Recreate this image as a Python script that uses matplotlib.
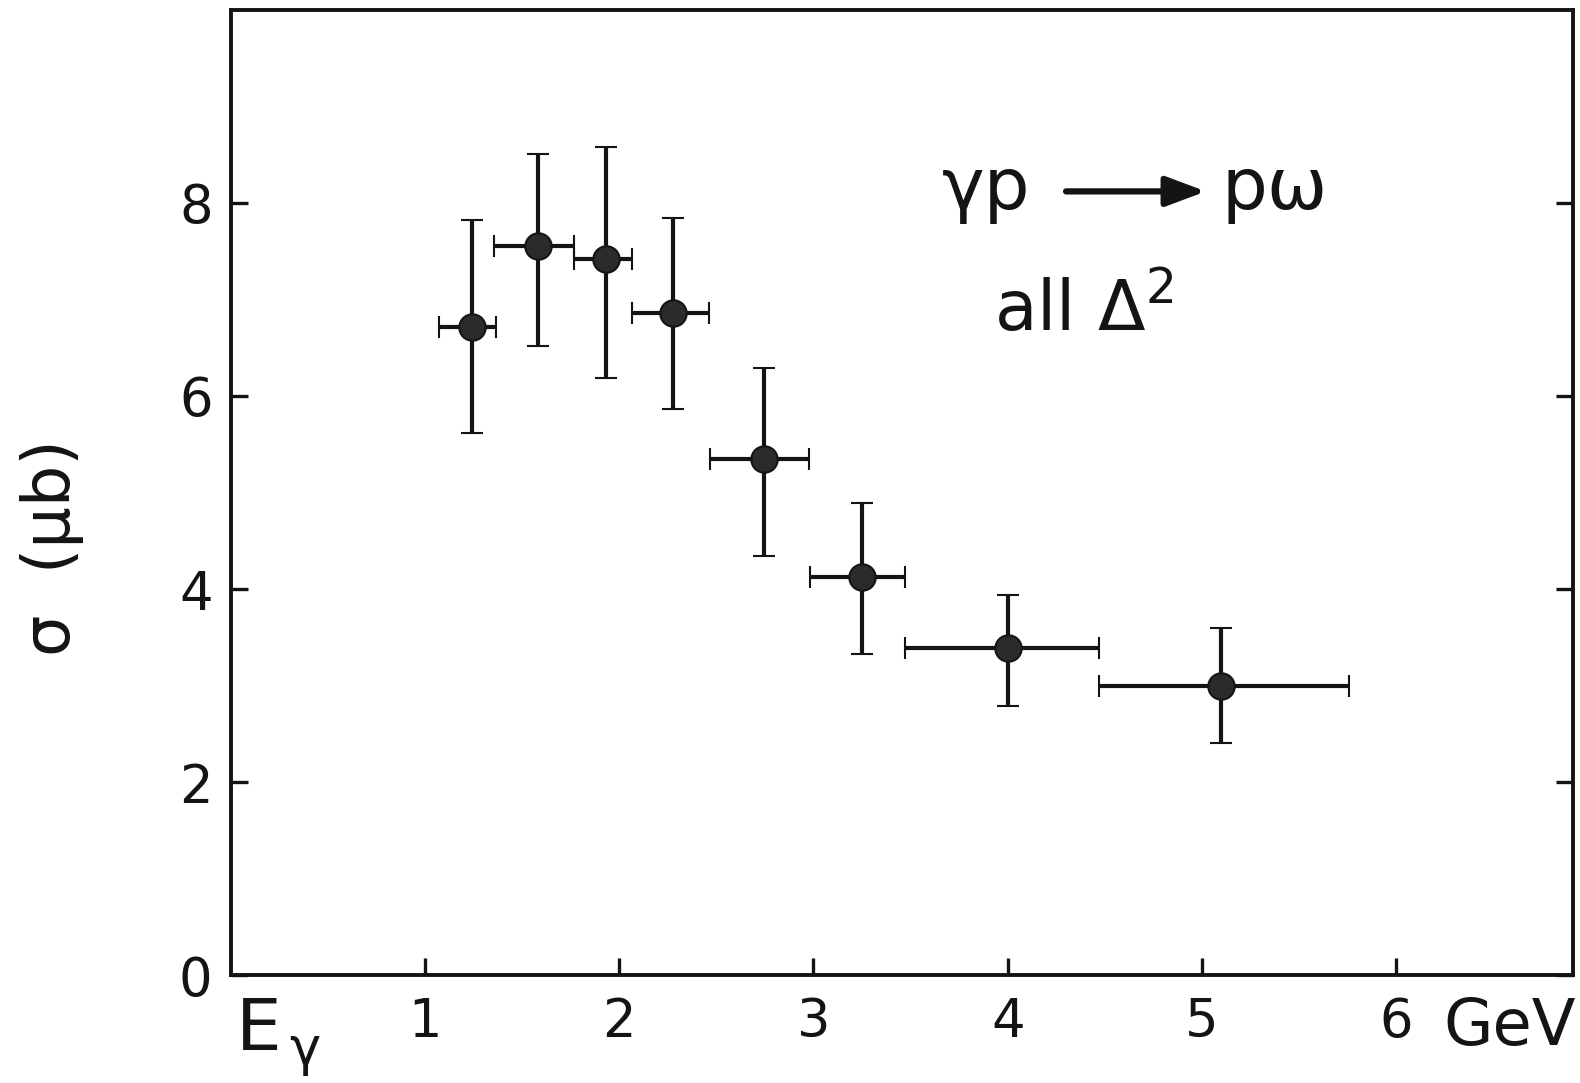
import numpy as np
import matplotlib
matplotlib.use("Agg")
import matplotlib.pyplot as plt

# photon energy bins (GeV)
e_center = np.array([1.24, 1.58, 1.93, 2.275, 2.745, 3.25, 4.00, 5.10])
e_low = np.array([1.07, 1.355, 1.765, 2.065, 2.465, 2.98, 3.47, 4.47])
e_high = np.array([1.365, 1.765, 2.065, 2.46, 2.975, 3.47, 4.47, 5.755])

# cross section (microbarn)
sigma = np.array([6.71, 7.55, 7.42, 6.86, 5.35, 4.12, 3.39, 3.00])
sigma_low = np.array([5.62, 6.52, 6.19, 5.86, 4.34, 3.33, 2.79, 2.40])
sigma_high = np.array([7.82, 8.51, 8.58, 7.84, 6.29, 4.89, 3.94, 3.60])

x_ticks = [1, 2, 3, 4, 5, 6]
y_ticks = [0, 2, 4, 6, 8]

plt.rcParams["font.family"] = ["DejaVu Sans"]
ink = "#141414"

fig = plt.figure(figsize=(15.8, 10.83), dpi=100)
ax = fig.add_axes([0.146, 0.0997, 0.8496, 0.8911])

ax.errorbar(e_center, sigma,
            xerr=[e_center - e_low, e_high - e_center],
            yerr=[sigma - sigma_low, sigma_high - sigma],
            fmt="o", ms=19, mfc="#2b2b2b", mec=ink, mew=1.5,
            ecolor=ink, elinewidth=3.0, capsize=8, capthick=3.2)

ax.set_xlim(0, 6.91)
ax.set_ylim(0, 10)

for s in ax.spines.values():
    s.set_linewidth(2.8)
    s.set_color(ink)

ax.set_xticks(x_ticks)
ax.set_xticklabels([str(t) for t in x_ticks])
ax.set_yticks(y_ticks)
ax.set_yticklabels([str(t) for t in y_ticks])
ax.tick_params(axis="both", direction="in", length=12, width=2.4,
               colors=ink, labelsize=38)
ax.tick_params(axis="x", pad=15)
ax.tick_params(axis="y", pad=13, right=True, labelright=False)
for lab in ax.get_xticklabels() + ax.get_yticklabels():
    lab.set_fontweight("medium")

# reaction label
ax.text(3.66, 7.94, "γp", fontsize=52, color=ink, ha="left", va="baseline")
ax.annotate("", xy=(5.02, 8.12), xytext=(4.30, 8.12),
            arrowprops=dict(arrowstyle="-|>,head_length=2.4,head_width=0.9",
                            color=ink, lw=4.5, shrinkA=0, shrinkB=0))
ax.text(5.10, 7.94, "pω", fontsize=52, color=ink, ha="left", va="baseline")
ax.text(3.93, 6.67, r"all $\Delta^{2}$", fontsize=50, color=ink,
        ha="left", va="baseline")

# axis labels
fig.text(52 / 1580, 1 - 548 / 1083, "σ  (μb)", rotation=90, fontsize=47,
         color=ink, ha="center", va="center")
fig.text(236 / 1580, 1 - 996 / 1083, "E", fontsize=52, color=ink,
         ha="left", va="top")
fig.text(289 / 1580, 1 - 1024 / 1083, "γ", fontsize=38, color=ink,
         ha="left", va="top")
fig.text(1443 / 1580, 1 - 996 / 1083, "GeV", fontsize=46, color=ink,
         ha="left", va="top")

fig.savefig("out.png", dpi=100)
